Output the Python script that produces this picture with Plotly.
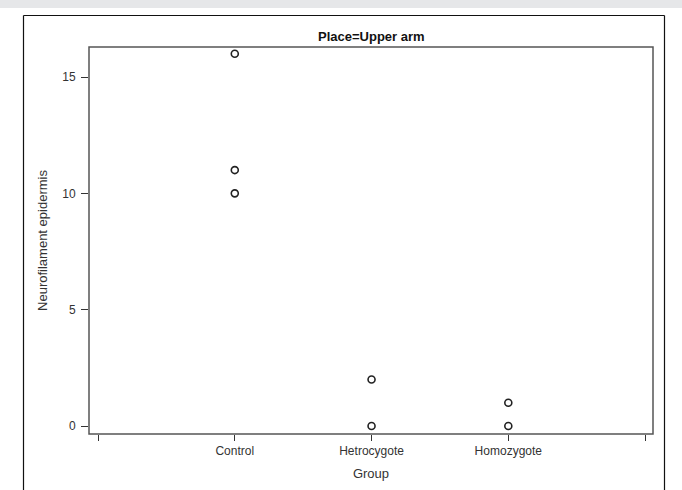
import plotly.graph_objects as go

categories = ["Control", "Hetrocygote", "Homozygote"]
group = ["Control", "Control", "Control", "Hetrocygote", "Hetrocygote", "Homozygote", "Homozygote"]
values = [16, 11, 10, 2, 0, 1, 0]
y_ticks = [0, 5, 10, 15]

pos = {c: i + 1 for i, c in enumerate(categories)}
xs = [pos[g] for g in group]

W, H = 682, 490
L, R, T, B = 89, 653, 47, 434
pw, ph = R - L, B - T

def px(x):
    return (x - L) / pw

def py(y):
    return (B - y) / ph

FONT = "Liberation Sans Narrow, Arial Narrow, Liberation Sans, Arial, sans-serif"

fig = go.Figure()
fig.add_trace(go.Scatter(
    x=xs, y=values, mode="markers",
    marker=dict(symbol="circle-open", size=7, color="#222222", line=dict(width=1.6, color="#222222")),
    showlegend=False, hoverinfo="x+y",
))

shapes = [
    # top gray band
    dict(type="rect", xref="paper", yref="paper", x0=px(0), x1=px(W), y0=py(8), y1=py(0),
         fillcolor="#e6e7e9", line=dict(width=0), layer="below"),
    # outer border (left, top, right)
    dict(type="line", xref="paper", yref="paper", x0=px(23.5), x1=px(23.5), y0=py(15.5), y1=py(W), line=dict(color="#111111", width=1.2)),
    dict(type="line", xref="paper", yref="paper", x0=px(23.5), x1=px(664.5), y0=py(15.5), y1=py(15.5), line=dict(color="#111111", width=1.2)),
    dict(type="line", xref="paper", yref="paper", x0=px(664.5), x1=px(664.5), y0=py(15.5), y1=py(W), line=dict(color="#111111", width=1.2)),
    # plot frame
    dict(type="rect", xref="paper", yref="paper", x0=0, x1=1, y0=0, y1=1,
         line=dict(color="#555555", width=1.5), fillcolor="rgba(0,0,0,0)"),
]

fig.update_layout(
    width=W, height=H,
    margin=dict(l=L, r=W - R, t=T, b=H - B, pad=0),
    paper_bgcolor="white", plot_bgcolor="white",
    font=dict(family=FONT, size=12, color="#333333"),
    shapes=shapes,
    annotations=[
        dict(text="<b>Place=Upper arm</b>", xref="paper", yref="paper", x=0.5, y=py(36),
             showarrow=False, font=dict(family=FONT, size=13, color="#111111"), xanchor="center", yanchor="middle"),
    ],
    xaxis=dict(
        range=[-0.066, 4.058], tickvals=[0, 1, 2, 3, 4], ticktext=[""] + categories + [""],
        ticks="outside", ticklen=6, tickwidth=1, tickcolor="#333333",
        showgrid=False, zeroline=False, showline=False,
        title=dict(text="Group", standoff=11, font=dict(family=FONT, size=13, color="#333333")),
        tickfont=dict(family=FONT, size=12, color="#333333"),
    ),
    yaxis=dict(
        range=[-0.344, 16.29], tickvals=y_ticks,
        ticks="outside", ticklen=7, tickwidth=1, tickcolor="#333333",
        ticklabelstandoff=3,
        showgrid=False, zeroline=False, showline=False,
        title=dict(text="Neurofilament epidermis", standoff=11, font=dict(family=FONT, size=13, color="#333333")),
        tickfont=dict(family=FONT, size=12, color="#333333"),
    ),
)

fig.write_html("out.html", config={"displayModeBar": False},
               post_script="document.body.style.margin='0';document.body.style.overflow='hidden';")
